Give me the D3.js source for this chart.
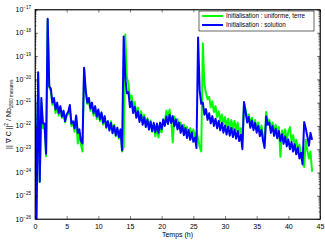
<!DOCTYPE html>
<html lang="fr">
<head>
<meta charset="UTF-8">
<title>Gradient</title>
<script src="https://cdn.jsdelivr.net/npm/d3@7"></script>
<style>
  body { margin: 0; background: #fff; }
  text { font-family: "Liberation Sans", Arial, sans-serif; fill: #000; }
</style>
</head>
<body>
<svg id="chart" width="325" height="241"></svg>
<script>
const temps = [
  0,0.25,0.5,0.75,1,1.25,1.5,1.75, 2,2.25,2.5,2.75,3,3.25,3.5,3.75,
  4,4.25,4.5,4.75,5,5.25,5.5,5.75, 6,6.25,6.5,6.75,7,7.25,7.5,7.75,
  8,8.25,8.5,8.75,9,9.25,9.5,9.75, 10,10.25,10.5,10.75,11,11.25,11.5,11.75,
  12,12.25,12.5,12.75,13,13.25,13.5,13.75, 14,14.25,14.5,14.75,15,15.25,15.5,15.75,
  16,16.25,16.5,16.75,17,17.25,17.5,17.75, 18,18.25,18.5,18.75,19,19.25,19.5,19.75,
  20,20.25,20.5,20.75,21,21.25,21.5,21.75, 22,22.25,22.5,22.75,23,23.25,23.5,23.75,
  24,24.25,24.5,24.75,25,25.25,25.5,25.75, 26,26.25,26.5,26.75,27,27.25,27.5,27.75,
  28,28.25,28.5,28.75,29,29.25,29.5,29.75, 30,30.25,30.5,30.75,31,31.25,31.5,31.75,
  32,32.25,32.5,32.75,33,33.25,33.5,33.75, 34,34.25,34.5,34.75,35,35.25,35.5,35.75,
  36,36.25,36.5,36.75,37,37.25,37.5,37.75, 38,38.25,38.5,38.75,39,39.25,39.5,39.75,
  40,40.25,40.5,40.75,41,41.25,41.5,41.75, 42,42.25,42.5,42.75,43,43.25,43.5,43.75
];

// log10 de ||grad C||^2 / Nb, initialisation uniforme (terre)
const logUniforme = [
  -21.0,-24.7,-19.8,-24.4,-21.0,-22.1,-22.0,-23.3,
  -17.45,-20.35,-20.5,-21.1,-20.9,-21.45,-21.1,-21.55,
  -21.2,-21.65,-21.4,-21.85,-21.55,-21.5,-21.2,-22.0,
  -21.85,-22.25,-21.65,-22.76,-22.3,-22.8,-23.1,-19.55,
  -20.5,-21.05,-20.9,-21.35,-21.1,-21.55,-21.25,-21.7,
  -21.38,-21.8,-21.5,-21.95,-21.62,-22.1,-21.8,-22.1,
  -21.8,-22.25,-21.95,-22.45,-22.15,-22.55,-22.25,-23.1,
  -22.9,-18.07,-19.9,-20.2,-20.85,-20.7,-21.18,-20.97,
  -21.48,-21.22,-21.68,-21.37,-21.78,-21.52,-21.98,-21.67,
  -22.1,-21.77,-22.25,-21.95,-22.45,-22.1,-22.5,-22.05,
  -22.28,-21.75,-21.85,-21.35,-21.6,-21.3,-21.75,-22.7,
  -21.6,-21.95,-21.7,-22.1,-21.85,-22.2,-21.95,-22.3,
  -22.05,-22.4,-22.1,-22.45,-22.15,-22.5,-22.25,-22.55,
  -22.9,-23.1,-18.45,-20.2,-20.6,-20.85,-20.75,-21.2,
  -20.95,-21.4,-21.15,-21.62,-21.37,-21.8,-21.51,-21.93,
  -21.62,-22.02,-21.69,-22.08,-21.75,-22.13,-21.79,-22.18,
  -21.86,-22.33,-22.1,-22.6,-21.04,-21.3,-21.72,-21.5,
  -21.95,-21.65,-22.05,-21.75,-22.15,-21.85,-22.28,-21.98,
  -22.45,-22.7,-21.4,-21.8,-21.75,-22.15,-21.85,-22.25,
  -21.95,-22.35,-22.05,-23.33,-22.2,-22.55,-22.15,-22.6,
  -22.25,-22.05,-22.65,-22.4,-22.85,-22.6,-23.05,-22.8,
  -23.3,-23.6,-23.76,-22.6,-23.05,-23.4,-23.1,-23.97
];

// log10 de ||grad C||^2 / Nb, initialisation solution
const logSolution = [
  -20.5,-26.0,-19.7,-24.4,-20.8,-21.9,-21.9,-23.2,
  -17.4,-20.3,-20.4,-21.0,-20.8,-21.3,-21.0,-21.45,
  -21.15,-21.6,-21.35,-21.8,-21.5,-21.4,-21.1,-21.9,
  -21.8,-22.1,-21.55,-22.3,-22.15,-22.65,-22.75,-19.5,
  -20.45,-21.0,-20.8,-21.25,-21.0,-21.45,-21.15,-21.6,
  -21.3,-21.72,-21.42,-21.87,-21.58,-22.05,-21.8,-22.2,
  -21.88,-22.32,-22.0,-22.4,-22.08,-22.48,-22.15,-23.05,
  -18.16,-19.9,-20.6,-20.55,-21.2,-20.95,-21.45,-21.18,
  -21.65,-21.37,-21.83,-21.52,-21.95,-21.63,-22.05,-21.73,
  -22.16,-21.82,-22.22,-21.87,-22.27,-21.9,-22.3,-21.86,
  -22.15,-21.72,-22.0,-21.6,-21.92,-21.52,-21.88,-21.58,
  -22.02,-21.72,-22.15,-21.86,-22.3,-21.98,-22.4,-22.09,
  -22.52,-22.18,-22.6,-22.27,-22.68,-22.5,-22.95,-18.2,
  -20.47,-21.05,-21.0,-21.52,-21.28,-21.74,-21.46,-21.89,
  -21.58,-22.0,-21.69,-22.1,-21.79,-22.19,-21.86,-22.29,
  -21.98,-22.37,-22.03,-22.42,-22.08,-22.48,-22.15,-22.55,
  -22.22,-22.65,-22.38,-23.0,-20.97,-21.4,-21.85,-21.62,
  -22.08,-21.77,-22.18,-21.87,-22.29,-22.0,-22.44,-22.17,
  -22.62,-22.95,-21.6,-21.95,-21.86,-22.3,-22.01,-22.43,
  -22.12,-22.53,-22.22,-22.65,-22.36,-22.77,-22.46,-22.88,
  -22.58,-23.0,-22.69,-23.1,-22.79,-23.22,-22.93,-23.4,
  -23.15,-23.65,-21.83,-22.1,-22.45,-22.85,-22.3,-22.6
];

const xTicks = [0, 5, 10, 15, 20, 25, 30, 35, 40, 45];
const yDecades = [-26, -25, -24, -23, -22, -21, -20, -19, -18, -17];
const legendLabels = ["Initialisation : uniforme, terre", "Initialisation : solution"];
const couleurs = ["#00ff00", "#0000ff"];

const pl = 35, pr = 320, pt = 9.5, pb = 219;
const svg = d3.select("#chart");

const x = d3.scaleLinear().domain([0, 45]).range([pl, pr]);
const y = d3.scaleLog().domain([1e-26, 1e-17]).range([pb, pt]);

svg.append("clipPath").attr("id", "zone")
  .append("rect").attr("x", pl).attr("y", pt)
  .attr("width", pr - pl).attr("height", pb - pt);

// courbes (verte dessous, bleue dessus)
const line = d3.line()
  .x((d, i) => x(temps[i]))
  .y(d => y(Math.pow(10, d)));

[logUniforme, logSolution].forEach((serie, k) => {
  svg.append("path")
    .datum(serie)
    .attr("clip-path", "url(#zone)")
    .attr("fill", "none")
    .attr("stroke", couleurs[k])
    .attr("stroke-width", 2)
    .attr("stroke-linejoin", "round")
    .attr("d", line);
});

// axes
svg.append("g")
  .attr("transform", "translate(0," + pb + ")")
  .call(d3.axisBottom(x).tickValues(xTicks).tickSize(-3).tickSizeOuter(0).tickPadding(5))
  .call(g => g.selectAll("text").attr("font-size", 7).attr("fill", "#000"));

svg.append("g")
  .attr("transform", "translate(0," + pt + ")")
  .call(d3.axisTop(x).tickValues(xTicks).tickSize(-3).tickSizeOuter(0).tickFormat(""));

const yVals = yDecades.map(e => Math.pow(10, e));
svg.append("g")
  .attr("transform", "translate(" + pl + ",0)")
  .call(d3.axisLeft(y).tickValues(yVals).tickSize(-3).tickSizeOuter(0).tickFormat(""));
svg.append("g")
  .attr("transform", "translate(" + pr + ",0)")
  .call(d3.axisRight(y).tickValues(yVals).tickSize(-3).tickSizeOuter(0).tickFormat(""));

svg.selectAll(".domain").attr("stroke", "#000").attr("stroke-width", 0.7);
svg.selectAll(".tick line").attr("stroke", "#000").attr("stroke-width", 0.5);

// graduations secondaires log
const mineurs = [];
yDecades.slice(0, -1).forEach(e => {
  for (let m = 2; m <= 9; m++) mineurs.push(m * Math.pow(10, e));
});
const gm = svg.append("g").attr("stroke", "#000").attr("stroke-width", 0.5);
gm.selectAll(".mg").data(mineurs).enter().append("line")
  .attr("x1", pl).attr("x2", pl + 1.6)
  .attr("y1", d => y(d)).attr("y2", d => y(d));
gm.selectAll(".md").data(mineurs).enter().append("line")
  .attr("x1", pr).attr("x2", pr - 1.6)
  .attr("y1", d => y(d)).attr("y2", d => y(d));

// etiquettes 10^n
const yl = svg.append("g").selectAll("text").data(yDecades).enter().append("text")
  .attr("x", 31)
  .attr("y", d => y(Math.pow(10, d)) + 2.5)
  .attr("text-anchor", "end")
  .attr("font-size", 7)
  .attr("fill", "#000");
yl.append("tspan").text("10");
yl.append("tspan").attr("font-size", 4.5).attr("dy", -3).text(d => "\u2212" + (-d));

// cadre
svg.append("rect")
  .attr("x", pl).attr("y", pt)
  .attr("width", pr - pl).attr("height", pb - pt)
  .attr("fill", "none").attr("stroke", "#000").attr("stroke-width", 0.7);

// titres des axes
svg.append("text")
  .attr("x", (pl + pr) / 2).attr("y", 237)
  .attr("text-anchor", "middle").attr("font-size", 7).attr("fill", "#000")
  .text("Temps (h)");

const ylab = svg.append("text")
  .attr("transform", "translate(11," + ((pt + pb) / 2) + ") rotate(-90)")
  .attr("text-anchor", "middle").attr("font-size", 7).attr("fill", "#000");
ylab.append("tspan").text("|| \u2207 C ||");
ylab.append("tspan").attr("font-size", 5).attr("dy", -3).text("2");
ylab.append("tspan").attr("dy", 3).text(" / Nb");
ylab.append("tspan").attr("font-size", 4.5).attr("dy", 2).text("1800 mesures");

// legende
const lg = svg.append("g");
lg.append("rect")
  .attr("x", 199).attr("y", 11).attr("width", 115).attr("height", 20)
  .attr("fill", "#fff").attr("stroke", "#000").attr("stroke-width", 0.6);
legendLabels.forEach((lab, k) => {
  const yy = 16 + k * 9;
  lg.append("line")
    .attr("x1", 202).attr("x2", 223).attr("y1", yy).attr("y2", yy)
    .attr("stroke", couleurs[k]).attr("stroke-width", 2);
  lg.append("text")
    .attr("x", 226).attr("y", yy + 2.2)
    .attr("font-size", 6.3).attr("fill", "#000")
    .text(lab);
});
</script>
</body>
</html>
